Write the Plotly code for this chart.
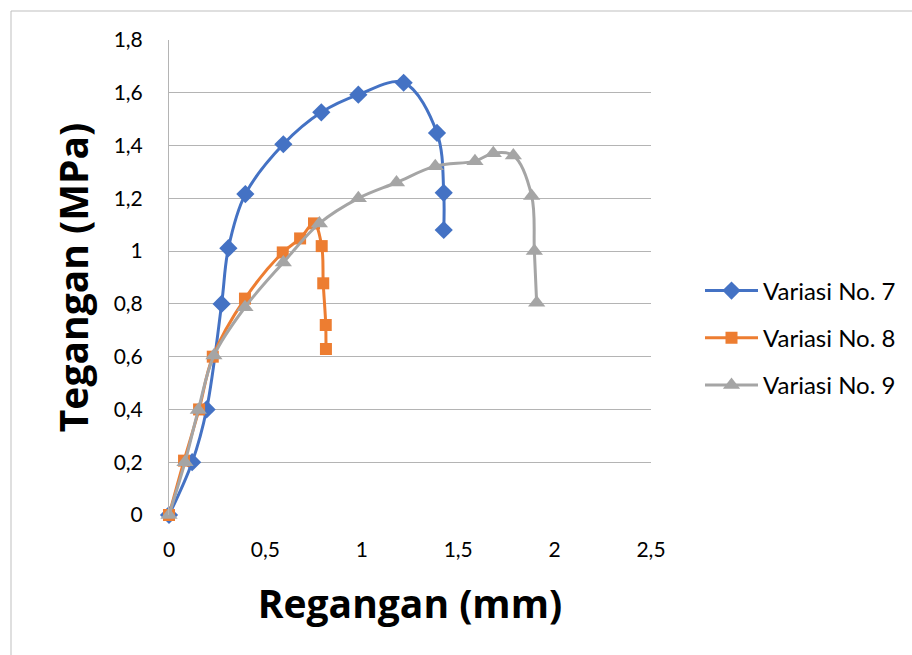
import plotly.graph_objects as go

# Data
x7 = [0, 0.12, 0.195, 0.273, 0.308, 0.396, 0.593, 0.79, 0.982, 1.217, 1.39, 1.425, 1.425]
y7 = [0, 0.2, 0.4, 0.8, 1.011, 1.216, 1.405, 1.526, 1.593, 1.638, 1.448, 1.221, 1.08]

x8 = [0, 0.078, 0.156, 0.227, 0.394, 0.59, 0.68, 0.752, 0.792, 0.80, 0.813, 0.814]
y8 = [0, 0.206, 0.40, 0.60, 0.82, 0.995, 1.048, 1.105, 1.019, 0.878, 0.72, 0.629]

x9 = [0, 0.083, 0.152, 0.233, 0.394, 0.593, 0.78, 0.982, 1.18, 1.381, 1.587, 1.682, 1.786, 1.881, 1.895, 1.907]
y9 = [0, 0.2, 0.398, 0.604, 0.787, 0.957, 1.105, 1.2, 1.26, 1.322, 1.341, 1.371, 1.362, 1.209, 1.0, 0.804]

names = ["Variasi No. 7", "Variasi No. 8", "Variasi No. 9"]
colors = ["#4472C4", "#ED7D31", "#A5A5A5"]
symbols = ["diamond", "square", "triangle-up"]

x_ticks = [0, 0.5, 1, 1.5, 2, 2.5]
x_ticktext = ["0", "0,5", "1", "1,5", "2", "2,5"]
y_ticks = [0, 0.2, 0.4, 0.6, 0.8, 1.0, 1.2, 1.4, 1.6, 1.8]
y_ticktext = ["0", "0,2", "0,4", "0,6", "0,8", "1", "1,2", "1,4", "1,6", "1,8"]

FONT = "Lato"
TFONT = "Open Sans"

fig = go.Figure()
for xs, ys, nm, c, s, ms in zip([x7, x8, x9], [y7, y8, y9], names, colors, symbols, [14, 12, 15]):
    fig.add_trace(go.Scatter(
        x=xs, y=ys, name=nm, legendgroup=nm,
        mode="lines+markers",
        line=dict(color=c, width=3, shape="spline", smoothing=1.0),
        marker=dict(symbol=s, size=ms, color=c),
        cliponaxis=False,
    ))

L, R, T, B = 169, 261, 40, 140
W, H = 912, 655
pw = W - L - R
ph = H - T - B

fig.update_layout(
    width=W, height=H,
    margin=dict(l=L, r=R, t=T, b=B, autoexpand=False),
    paper_bgcolor="white", plot_bgcolor="white",
    font=dict(family=FONT, color="#000000", size=21),
    showlegend=True,
    legend=dict(
        x=(700 - L) / pw, xanchor="left",
        y=(515 - 338) / ph, yanchor="middle",
        font=dict(family=FONT, size=24, color="#000"),
        itemwidth=53,
        tracegroupgap=13,
        bgcolor="rgba(0,0,0,0)",
    ),
    xaxis=dict(
        range=[0, 2.5], tickvals=x_ticks, ticktext=x_ticktext,
        showgrid=False, zeroline=False, showline=False,
        ticks="", ticklabelstandoff=20,
        tickfont=dict(family=FONT, size=21),
        title=dict(text="<b>Regangan (mm)</b>", font=dict(family=TFONT, size=39), standoff=30),
    ),
    yaxis=dict(
        range=[0, 1.8], tickvals=y_ticks, ticktext=y_ticktext,
        showgrid=True, gridcolor="#B4B4B4", gridwidth=1,
        zeroline=False, showline=True, linecolor="#B4B4B4", linewidth=1,
        ticks="", ticklabelstandoff=21,
        tickfont=dict(family=FONT, size=21),
        title=dict(text="<b>Tegangan (MPa)</b>", font=dict(family=TFONT, size=39), standoff=13),
    ),
    shapes=[
        dict(type="line", xref="paper", yref="paper",
             x0=(11 - L) / pw, x1=(W + 5 - L) / pw,
             y0=(515 - 11) / ph, y1=(515 - 11) / ph,
             line=dict(color="#BFBFBF", width=1)),
        dict(type="line", xref="paper", yref="paper",
             x0=(11 - L) / pw, x1=(11 - L) / pw,
             y0=(515 - 11) / ph, y1=(515 - H - 5) / ph,
             line=dict(color="#BFBFBF", width=1)),
    ],
)

fig.write_html("out.html")
